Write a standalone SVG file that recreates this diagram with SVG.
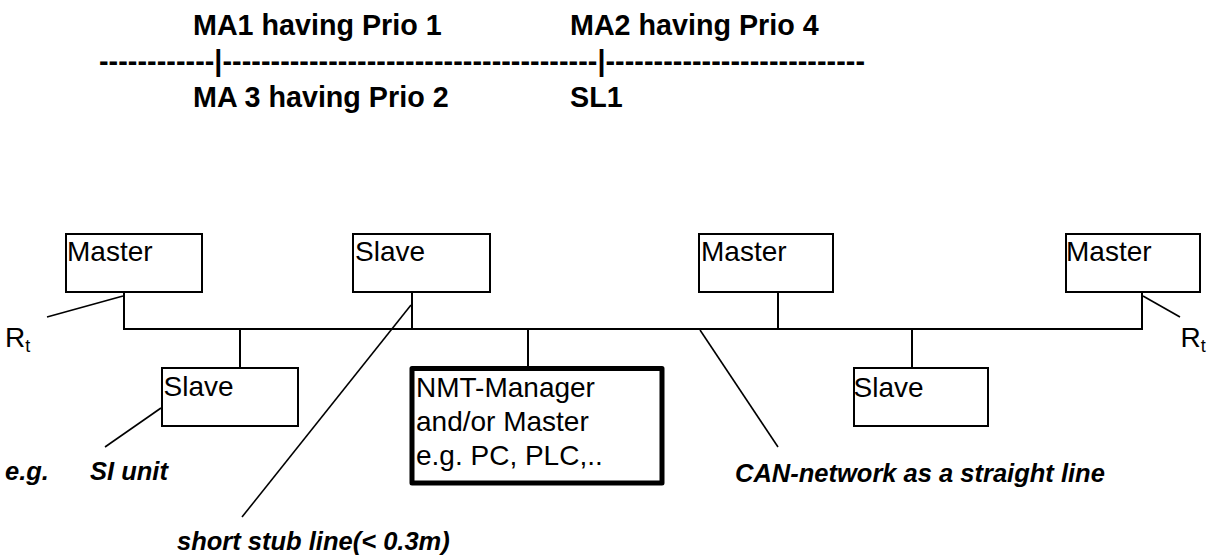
<svg xmlns="http://www.w3.org/2000/svg" width="1215" height="557" viewBox="0 0 1215 557">
<style>
  .box{fill:#fff;stroke:#000;stroke-width:2}
  .thick{fill:#fff;stroke:#000;stroke-width:5;stroke-linejoin:round}
  .ln{stroke:#000;stroke-width:2;fill:none}
  .ln1{stroke:#000;stroke-width:1.6;fill:none}
  .t{font-family:"Liberation Sans",Arial,sans-serif;font-size:28px;fill:#000}
  .hb{font-family:"Liberation Sans",Arial,sans-serif;font-size:28.7px;font-weight:bold;fill:#000}
  .bi{font-family:"Liberation Sans",Arial,sans-serif;font-size:25.5px;font-weight:bold;font-style:italic;fill:#000}
</style>
<rect width="1215" height="557" fill="#fff"/>
<g id="header">
  <text class="hb" x="193" y="35">MA1 having Prio 1</text>
  <text class="hb" x="570" y="35">MA2 having Prio 4</text>
  <text class="hb" x="99" y="71" textLength="766" lengthAdjust="spacing">------------|---------------------------------------|---------------------------</text>
  <text class="hb" x="193" y="107">MA 3 having Prio 2</text>
  <text class="hb" x="570" y="107">SL1</text>
</g>
<g id="connectors">
  <polyline class="ln" points="124,292 124,329 1142,329 1142,292"/>
  <line class="ln" x1="412" y1="292" x2="412" y2="329"/>
  <line class="ln" x1="778" y1="292" x2="778" y2="329"/>
  <line class="ln" x1="240" y1="329" x2="240" y2="368"/>
  <line class="ln" x1="528" y1="329" x2="528" y2="366"/>
  <line class="ln" x1="912" y1="329" x2="912" y2="368"/>
  <line class="ln1" x1="47" y1="317" x2="123" y2="296"/>
  <line class="ln1" x1="1143" y1="296" x2="1180" y2="317"/>
  <line class="ln1" x1="161" y1="408" x2="105" y2="447"/>
  <line class="ln1" x1="411" y1="305" x2="242" y2="517"/>
  <line class="ln1" x1="700" y1="330" x2="778" y2="447"/>
</g>
<g id="master1">
  <rect class="box" x="66" y="234" width="136" height="58"/>
  <text class="t" x="67" y="261">Master</text>
</g>
<g id="slave1">
  <rect class="box" x="353" y="234" width="137" height="58"/>
  <text class="t" x="355" y="261">Slave</text>
</g>
<g id="master2">
  <rect class="box" x="699" y="234" width="134" height="58"/>
  <text class="t" x="701" y="261">Master</text>
</g>
<g id="master3">
  <rect class="box" x="1066" y="234" width="134" height="58"/>
  <text class="t" x="1066" y="261">Master</text>
</g>
<g id="slave2">
  <rect class="box" x="162" y="368" width="136" height="58"/>
  <text class="t" x="163.5" y="396">Slave</text>
</g>
<g id="nmt">
  <rect class="thick" x="412" y="368.5" width="250" height="114.5"/>
  <text class="t" x="416" y="397">NMT-Manager</text>
  <text class="t" x="416" y="431">and/or Master</text>
  <text class="t" x="416" y="465">e.g. PC, PLC,..</text>
</g>
<g id="slave3">
  <rect class="box" x="854" y="368" width="134" height="58"/>
  <text class="t" x="853.5" y="396.5">Slave</text>
</g>
<g id="rt-left">
  <text class="t" x="5" y="346.5">R<tspan font-size="18" dy="5">t</tspan></text>
</g>
<g id="rt-right">
  <text class="t" x="1180.5" y="346.5">R<tspan font-size="18" dy="5">t</tspan></text>
</g>
<g id="labels">
  <text class="bi" x="5" y="480">e.g.</text>
  <text class="bi" x="90" y="480">SI unit</text>
  <text class="bi" x="177" y="550">short stub line(&lt; 0.3m)</text>
  <text class="bi" x="735" y="481.5">CAN-network as a straight line</text>
</g>
</svg>
